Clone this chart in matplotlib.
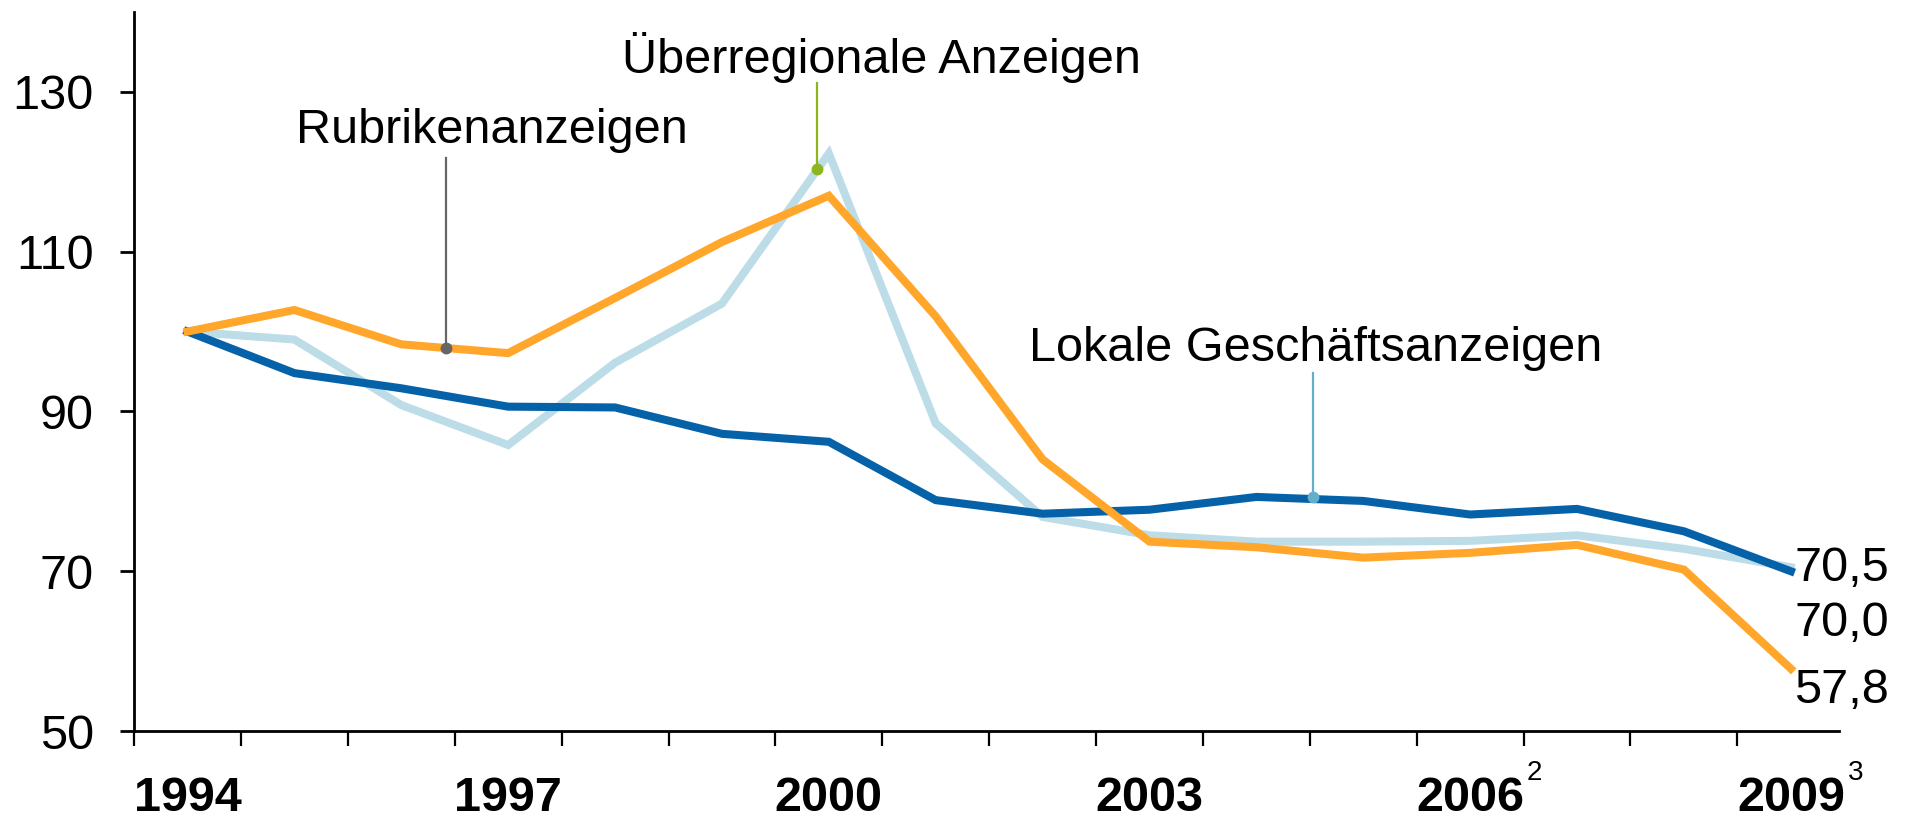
import matplotlib
matplotlib.use("Agg")
import matplotlib.pyplot as plt
import numpy as np

plt.rcParams['font.family'] = ['Liberation Sans', 'DejaVu Sans']

years = list(range(1994, 2010))
lokal = [100, 94.8, 92.9, 90.6, 90.5, 87.2, 86.2, 78.9, 77.2, 77.7, 79.3, 78.8, 77.1, 77.8, 75.0, 70.0]
ueberregional = [100, 99.0, 90.8, 85.8, 96.1, 103.5, 122.3, 88.5, 76.8, 74.5, 73.7, 73.7, 73.8, 74.5, 72.8, 70.5]
rubriken = [100, 102.7, 98.4, 97.3, 104.2, 111.2, 117.0, 101.9, 84.0, 73.7, 73.0, 71.7, 72.3, 73.3, 70.2, 57.8]

yticks = [50, 70, 90, 110, 130]
xlabel_years = [1994, 1997, 2000, 2003, 2006, 2009]
superscripts = {2006: "2", 2009: "3"}
end_labels = ["70,5", "70,0", "57,8"]

c_dark = "#0562A8"
c_light = "#BCDDE8"
c_orange = "#FFA62B"

fig = plt.figure(figsize=(19.07, 8.21), dpi=100)
ax = fig.add_axes([0.0703, 0.1096, 0.8940, 0.8758])

ax.plot(years, ueberregional, color=c_light, lw=5.8, solid_joinstyle='miter', zorder=2)
ax.plot(years, lokal, color=c_dark, lw=5.8, solid_joinstyle='miter', zorder=3)
ax.plot(years, rubriken, color=c_orange, lw=5.8, solid_joinstyle='miter', zorder=4)

ax.set_xlim(1993.5, 2009.45)
ax.set_ylim(50, 140)

for s in ['top', 'right']:
    ax.spines[s].set_visible(False)
for s in ['left', 'bottom']:
    ax.spines[s].set_linewidth(2.0)
    ax.spines[s].set_color('black')

ax.set_yticks(yticks)
ax.set_yticklabels([str(v) for v in yticks], fontsize=35)
ax.tick_params(axis='y', length=10, width=2.0, pad=19)

ax.set_xticks(np.arange(1993.5, 2009.0, 1.0))
ax.set_xticklabels([])
ax.tick_params(axis='x', length=11, width=1.6, direction='out')

tr = ax.get_xaxis_transform()
for y in xlabel_years:
    ax.text(y, -0.111, str(y), transform=tr, ha='center', va='baseline',
            fontsize=35, fontweight='bold', clip_on=False)
    if y in superscripts:
        ax.text(y + 0.53, -0.068, superscripts[y], transform=tr, ha='left',
                va='baseline', fontsize=20, clip_on=False)

# end labels
ax.text(2009.03, 68.8, end_labels[0], fontsize=35, ha='left', va='baseline', clip_on=False)
ax.text(2009.03, 61.9, end_labels[1], fontsize=35, ha='left', va='baseline', clip_on=False)
ax.text(2009.03, 53.5, end_labels[2], fontsize=35, ha='left', va='baseline', clip_on=False)

# annotations
def annot(x, y0, y1, color, text, tx, ty):
    ax.plot([x, x], [y0, y1], color=color, lw=1.6, zorder=5)
    ax.plot([x], [y1], 'o', color=color, ms=7.5, zorder=6)
    ax.text(tx, ty, text, fontsize=35, ha='center', va='baseline')

annot(1996.42, 121.7, 97.9, "#666666", "Rubrikenanzeigen", 1996.85, 123.6)
annot(1999.89, 131.1, 120.4, "#8DB51E", "Überregionale Anzeigen", 2000.49, 132.4)
annot(2004.53, 94.8, 79.3, "#62AECB", "Lokale Geschäftsanzeigen", 2004.55, 96.3)

fig.savefig("out.png", dpi=100)
